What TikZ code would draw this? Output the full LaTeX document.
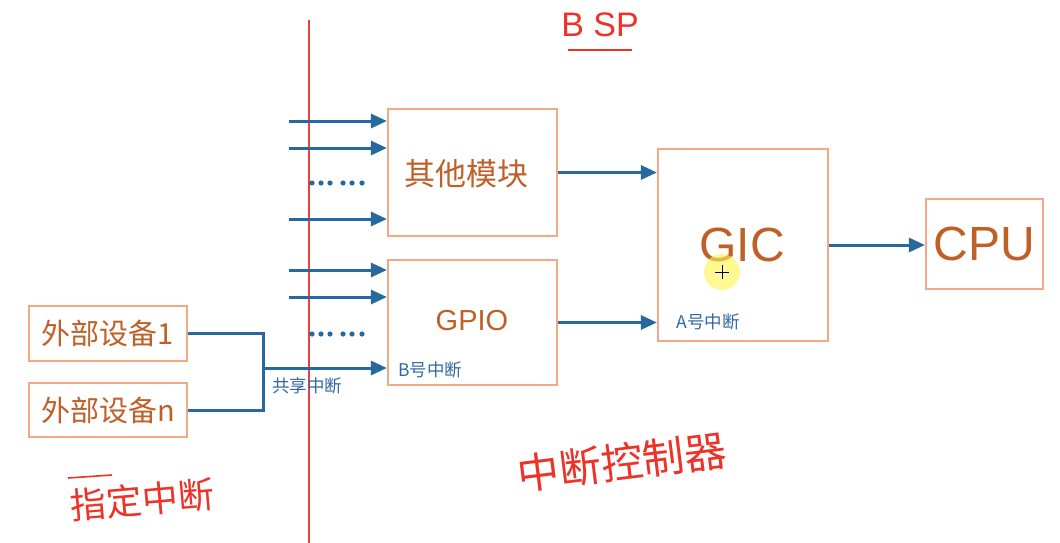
\documentclass[tikz,border=0pt]{standalone}
\usepackage{fontspec}
\setmainfont{Liberation Sans}
\newfontfamily\cjk{Noto Sans CJK SC}
\usetikzlibrary{arrows.meta}
\definecolor{boxline}{RGB}{245,168,134}
\definecolor{boxtext}{RGB}{190,96,40}
\definecolor{flow}{RGB}{38,104,160}
\definecolor{flowtext}{RGB}{50,105,165}
\definecolor{pen}{RGB}{238,50,40}
\definecolor{redline}{RGB}{232,64,64}
\tikzset{
  blk/.style={draw=boxline,line width=2.2pt,inner sep=0pt,fill=white},
  cjkbig/.style={text=boxtext,font=\cjk\fontsize{31}{34}\selectfont},
  latbig/.style={text=boxtext,font=\fontsize{48}{52}\selectfont},
  arr/.style={draw=flow,line width=3pt,-{Triangle[length=16pt,width=14pt]}},
  wire/.style={draw=flow,line width=3pt},
  lbl/.style={text=flowtext,font=\cjk\fontsize{17.5}{20}\selectfont,inner sep=0pt},
  hand/.style={text=pen,font=\cjk\fontsize{36}{40}\selectfont,inner sep=0pt},
  dot/.style={fill=flow,draw=none}
}
\begin{document}
\begin{tikzpicture}[x=1pt,y=-1pt]
\useasboundingbox[fill=white] (0,0) rectangle (1060,543);
% red divider
\draw[redline,line width=2pt] (309,20) -- (309,543);
% blocks
\node[blk,minimum width=169pt,minimum height=127pt] (other) at (472.5,172.5) {};
\node[cjkbig] at (466,174) {其他模块};
\node[blk,minimum width=169pt,minimum height=125pt] (gpio) at (472.5,322.5) {};
\node[text=boxtext,font=\fontsize{29}{32}\selectfont] at (472,321) {GPIO};
\node[blk,minimum width=170pt,minimum height=192pt] (gic) at (743,245) {};
\node[latbig] at (742,245) {GIC};
\node[blk,minimum width=117pt,minimum height=90pt,latbig] (cpu) at (984.5,244) {CPU};
\node[blk,minimum width=158pt,minimum height=55pt,text=boxtext,font=\cjk\fontsize{29}{32}\selectfont] (dev1) at (108,333.5) {外部设备1};
\node[blk,minimum width=158pt,minimum height=54pt,text=boxtext,font=\cjk\fontsize{29}{32}\selectfont] (devn) at (108,410) {外部设备n};
% inputs to other module
\coordinate (i1) at (289,121);
\coordinate (i2) at (289,148);
\coordinate (i3) at (289,219);
\draw[arr] (i1) -- (other.west |- i1);
\draw[arr] (i2) -- (other.west |- i2);
\draw[arr] (i3) -- (other.west |- i3);
\foreach \x in {312,321,330,343,352,362}{
  \fill[dot] (\x,183) circle (2.6pt);
  \fill[dot] (\x,334) circle (2.6pt);
}
% inputs to GPIO
\coordinate (g1) at (289,270);
\coordinate (g2) at (289,297);
\draw[arr] (g1) -- (gpio.west |- g1);
\draw[arr] (g2) -- (gpio.west |- g2);
% shared interrupt
\coordinate (jm) at (263,368);
\draw[wire] (dev1.east) -| (jm) |- (devn.east);
\draw[arr] (jm) -- (gpio.west |- jm);
\node[lbl] (shared) at (307,386) {共享中断};
\node[lbl] (bint) at (430,370) {B号中断};
\node[lbl] (aint) at (708,322) {A号中断};
% to GIC and CPU
\draw[arr] (other.east) -- (gic.west |- other.east);
\draw[arr] (gpio.east) -- (gic.west |- gpio.east);
\draw[arr] (gic.east) -- (cpu.west |- gic.east);
% cursor highlight
\fill[yellow!70!white,opacity=0.6] (722,272) circle (18pt);
\draw[black,line width=0.6pt] (722,265) -- (722,279) (715,272) -- (729,272);
% handwritten notes
\node[hand,font=\fontsize{34}{38}\selectfont] (bnote) at (600,25) {B SP};
\draw[pen,line width=1.6pt] (568,50) -- (632,50);
\node[hand,rotate=7,font=\cjk\fontsize{42}{46}\selectfont] (ctrl) at (622,462) {中断控制器};
\node[hand,rotate=5] (spec) at (142,500) {指定中断};
\draw[pen,line width=1.6pt] (68,478) -- (112,475);
\end{tikzpicture}
\end{document}
